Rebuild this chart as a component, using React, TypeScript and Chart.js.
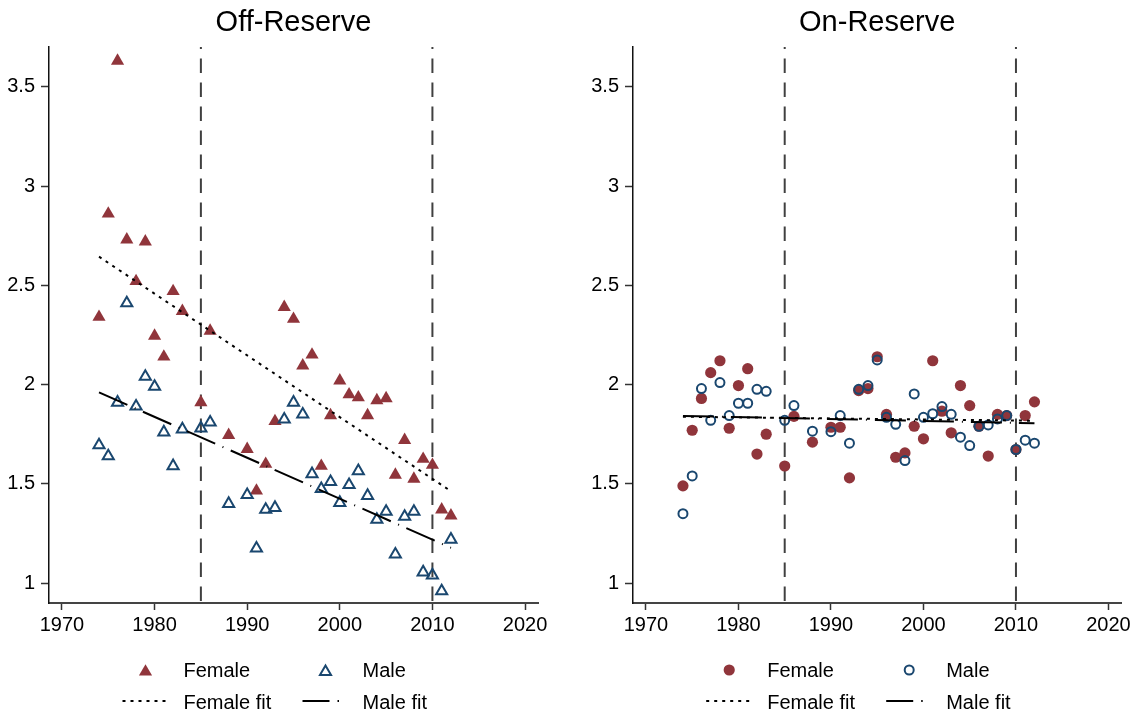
import React, { useEffect, useRef } from 'react';
import { Chart, registerables } from 'chart.js';

Chart.register(...registerables);

// Survey years (same for both panels)
const years = [
  1974, 1975, 1976, 1977, 1978, 1979, 1980, 1981, 1982, 1983, 1985, 1986, 1988,
  1990, 1991, 1992, 1993, 1994, 1995, 1996, 1997, 1998, 1999, 2000, 2001, 2002,
  2003, 2004, 2005, 2006, 2007, 2008, 2009, 2010, 2011, 2012,
];

// Off-reserve values
const offFemale = [
  2.34, 2.86, 3.63, 2.73, 2.52, 2.72, 2.245, 2.14, 2.47, 2.37, 1.91, 2.27, 1.745,
  1.675, 1.465, 1.6, 1.815, 2.39, 2.33, 2.095, 2.15, 1.59, 1.845, 2.02, 1.95, 1.935,
  1.845, 1.92, 1.93, 1.545, 1.72, 1.525, 1.625, 1.595, 1.37, 1.34,
];
const offMale = [
  1.695, 1.64, 1.91, 2.41, 1.89, 2.04, 1.99, 1.76, 1.59, 1.775, 1.78, 1.81, 1.4,
  1.445, 1.175, 1.37, 1.38, 1.825, 1.91, 1.85, 1.55, 1.475, 1.51, 1.405, 1.495, 1.565,
  1.44, 1.32, 1.36, 1.145, 1.335, 1.36, 1.055, 1.04, 0.96, 1.22,
];

// On-reserve values
const onFemale = [
  1.49, 1.77, 1.93, 2.06, 2.12, 1.78, 1.995, 2.08, 1.65, 1.75, 1.59, 1.84, 1.71,
  1.785, 1.785, 1.53, 1.97, 1.98, 2.14, 1.85, 1.634, 1.656, 1.79, 1.727, 2.12, 1.866,
  1.757, 1.995, 1.894, 1.79, 1.64, 1.85, 1.844, 1.673, 1.844, 1.913,
];
const onMale = [
  1.35, 1.54, 1.98, 1.82, 2.01, 1.844, 1.906, 1.906, 1.976, 1.966, 1.82, 1.894, 1.765,
  1.763, 1.844, 1.705, 1.976, 1.995, 2.124, 1.835, 1.8, 1.617, 1.953, 1.835, 1.853, 1.889,
  1.85, 1.735, 1.693, 1.79, 1.797, 1.827, 1.844, 1.673, 1.72, 1.705,
];

// Linear fit end points
const fitYears = [1974, 2012];
const offFemaleFit = [2.644, 1.463];
const offMaleFit = [1.961, 1.178];
const onFemaleFit = [1.838, 1.818];
const onMaleFit = [1.842, 1.805];

// Reference years marked with vertical lines
const refYears = [1985, 2010];

// Axis ticks
const xTicks = [1970, 1980, 1990, 2000, 2010, 2020];
const yTicks = [1, 1.5, 2, 2.5, 3, 3.5];
const X_MIN = 1968.6;
const X_MAX = 2021.4;
const Y_MIN = 0.9;
const Y_MAX = 3.7;

const FONT = "'Liberation Sans', Arial, Helvetica, sans-serif";
const MAROON = '#90353b';
const NAVY = '#1a476f';

const PANEL_W = 567;
const PANEL_H = 714;

// Marker sizes (radius in px)
const TRI_FILLED_R = 7.6;
const TRI_HOLLOW_R = 6.4;
const CIRC_FILLED_R = 5.6;
const CIRC_HOLLOW_R = 4.5;

type Marker = 'triangle' | 'circle';

function drawMarker(ctx: CanvasRenderingContext2D, kind: Marker, filled: boolean, x: number, y: number) {
  ctx.beginPath();
  if (kind === 'triangle') {
    const r = filled ? TRI_FILLED_R : TRI_HOLLOW_R;
    for (let i = 0; i < 3; i++) {
      const a = (i * 2 * Math.PI) / 3;
      const px = x + Math.sin(a) * r;
      const py = y - Math.cos(a) * r;
      if (i === 0) ctx.moveTo(px, py);
      else ctx.lineTo(px, py);
    }
    ctx.closePath();
  } else {
    ctx.arc(x, y, filled ? CIRC_FILLED_R : CIRC_HOLLOW_R, 0, Math.PI * 2);
  }
  if (filled) {
    ctx.fillStyle = MAROON;
    ctx.fill();
  } else {
    ctx.strokeStyle = NAVY;
    ctx.lineWidth = 2;
    ctx.stroke();
  }
}

// Panel title above the plot and the two-column key below it
const decorPlugin = {
  id: 'decor',
  afterDraw(chart: any, _args: any, opts: any) {
    const { ctx, chartArea } = chart;
    const cx = (chartArea.left + chartArea.right) / 2;
    ctx.save();
    ctx.fillStyle = '#000';
    ctx.textAlign = 'center';
    ctx.textBaseline = 'alphabetic';
    ctx.font = `29px ${FONT}`;
    ctx.fillText(opts.title, cx, 31);

    const row1 = 670;
    const row2 = 701;
    const markerY = opts.marker === 'triangle' ? row1 + 1.8 : row1;
    drawMarker(ctx, opts.marker, true, cx - 148, markerY);
    drawMarker(ctx, opts.marker, false, cx + 32, markerY);

    ctx.strokeStyle = '#000';
    ctx.lineWidth = 2;
    ctx.setLineDash([3, 5]);
    ctx.beginPath();
    ctx.moveTo(cx - 171, row2);
    ctx.lineTo(cx - 125, row2);
    ctx.stroke();

    ctx.setLineDash([27, 8, 1.5, 100]);
    ctx.beginPath();
    ctx.moveTo(cx + 9, row2);
    ctx.lineTo(cx + 47, row2);
    ctx.stroke();
    ctx.setLineDash([]);

    ctx.fillStyle = '#000';
    ctx.textAlign = 'left';
    ctx.font = `20px ${FONT}`;
    ctx.fillText('Female', cx - 110, 677);
    ctx.fillText('Male', cx + 69, 677);
    ctx.fillText('Female fit', cx - 110, 709);
    ctx.fillText('Male fit', cx + 69, 709);
    ctx.restore();
  },
};

interface PanelProps {
  title: string;
  marker: Marker;
  female: number[];
  male: number[];
  femaleFit: number[];
  maleFit: number[];
  left: number;
  axisWidth: number;
  rightPad: number;
}

function Panel(p: PanelProps) {
  const ref = useRef<HTMLCanvasElement>(null);

  useEffect(() => {
    const tri = p.marker === 'triangle';
    const pts = (vals: number[]) => years.map((x, i) => ({ x, y: vals[i] }));
    const fit = (vals: number[]) => fitYears.map((x, i) => ({ x, y: vals[i] }));

    const chart = new Chart(ref.current as HTMLCanvasElement, {
      type: 'scatter',
      data: {
        datasets: [
          {
            label: 'Male fit',
            data: fit(p.maleFit),
            showLine: true,
            borderColor: '#000',
            borderWidth: 2,
            borderDash: [31, 8, 1, 8],
            pointRadius: 0,
          },
          {
            label: 'Female fit',
            data: fit(p.femaleFit),
            showLine: true,
            borderColor: '#000',
            borderWidth: 2,
            borderDash: [3, 5],
            pointRadius: 0,
          },
          {
            label: 'Male',
            data: pts(p.male),
            pointStyle: p.marker,
            pointRadius: tri ? TRI_HOLLOW_R : CIRC_HOLLOW_R,
            pointBorderWidth: 2,
            borderColor: NAVY,
            backgroundColor: 'rgba(0,0,0,0)',
          },
          {
            label: 'Female',
            data: pts(p.female),
            pointStyle: p.marker,
            pointRadius: tri ? TRI_FILLED_R : CIRC_FILLED_R,
            pointBorderWidth: 0,
            borderColor: MAROON,
            backgroundColor: MAROON,
          },
          ...refYears.map((x) => ({
            label: String(x),
            data: [
              { x, y: Y_MAX },
              { x, y: Y_MIN },
            ],
            showLine: true,
            borderColor: '#404040',
            borderWidth: 2,
            borderDash: [14.5, 9.5],
            borderDashOffset: 12.5,
            pointRadius: 0,
          })),
        ],
      },
      options: {
        responsive: false,
        animation: false,
        devicePixelRatio: 1,
        events: [],
        layout: { padding: { left: 0, right: p.rightPad, top: 47, bottom: 0 } },
        plugins: {
          legend: { display: false },
          tooltip: { enabled: false },
          decor: { title: p.title, marker: p.marker },
        } as any,
        scales: {
          x: {
            type: 'linear',
            min: X_MIN,
            max: X_MAX,
            afterBuildTicks: (axis: any) => {
              axis.ticks = xTicks.map((value) => ({ value }));
            },
            afterFit: (axis: any) => {
              axis.height = PANEL_H - 603;
            },
            border: { display: true, color: '#444', width: 2 },
            grid: {
              display: true,
              drawOnChartArea: false,
              drawTicks: true,
              tickLength: 7,
              tickColor: '#333',
              tickWidth: 1.5,
            },
            ticks: {
              autoSkip: false,
              maxRotation: 0,
              padding: 3,
              color: '#000',
              font: { family: FONT, size: 20 },
              callback: (v: any) => String(v),
            },
          },
          y: {
            type: 'linear',
            min: Y_MIN,
            max: Y_MAX,
            afterBuildTicks: (axis: any) => {
              axis.ticks = yTicks.map((value) => ({ value }));
            },
            afterFit: (axis: any) => {
              axis.width = p.axisWidth;
            },
            border: { display: true, color: '#111', width: 1.5 },
            grid: {
              display: true,
              drawOnChartArea: false,
              drawTicks: true,
              tickLength: 8,
              tickColor: '#333',
              tickWidth: 1.5,
            },
            ticks: {
              autoSkip: false,
              padding: 6,
              color: '#000',
              font: { family: FONT, size: 20 },
              callback: (v: any) => String(v),
            },
          },
        },
      },
      plugins: [decorPlugin],
    } as any);

    return () => chart.destroy();
  }, []);

  return (
    <canvas
      ref={ref}
      width={PANEL_W}
      height={PANEL_H}
      style={{ position: 'absolute', left: p.left, top: 0, width: PANEL_W, height: PANEL_H }}
    />
  );
}

export default function App() {
  return (
    <div
      style={{
        position: 'fixed',
        left: 0,
        top: 0,
        width: 1134,
        height: 714,
        background: '#fff',
        overflow: 'hidden',
      }}
    >
      <Panel
        title="Off-Reserve"
        marker="triangle"
        female={offFemale}
        male={offMale}
        femaleFit={offFemaleFit}
        maleFit={offMaleFit}
        left={0}
        axisWidth={49}
        rightPad={PANEL_W - 538}
      />
      <Panel
        title="On-Reserve"
        marker="circle"
        female={onFemale}
        male={onMale}
        femaleFit={onFemaleFit}
        maleFit={onMaleFit}
        left={PANEL_W}
        axisWidth={66}
        rightPad={PANEL_W - 556}
      />
    </div>
  );
}
